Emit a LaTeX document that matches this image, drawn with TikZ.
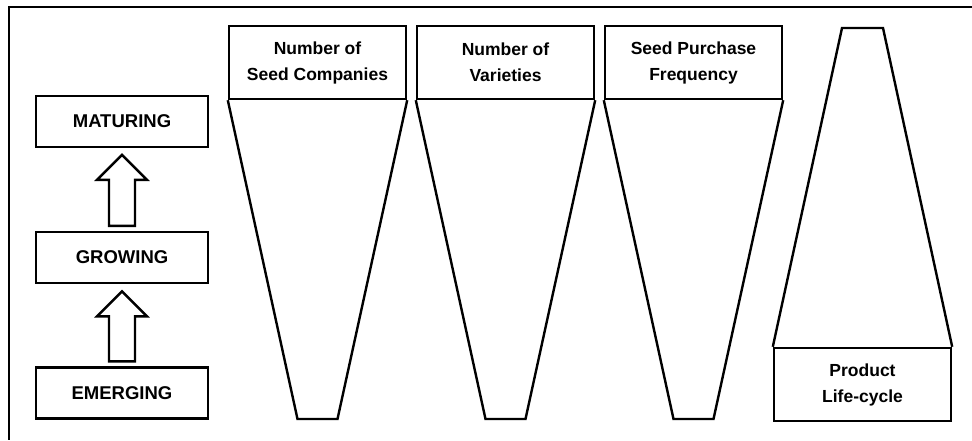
\documentclass[tikz,border=0pt]{standalone}
\usepackage{fontspec}
\setmainfont{Liberation Sans}
\usetikzlibrary{calc,positioning}

\tikzset{
  stagebox/.style={draw, line width=2.4pt, minimum width=172pt, minimum height=51pt,
    inner sep=0pt, font=\fontsize{18.5}{26}\selectfont\bfseries},
  headbox/.style={draw, line width=2.4pt, minimum width=177pt, minimum height=73pt,
    inner sep=0pt, align=center, font=\fontsize{17.5}{26}\selectfont\bfseries},
  funnelline/.style={line width=2.4pt, line join=miter},
  blockline/.style={line width=2.4pt, line join=miter},
  frameline/.style={line width=1.5pt},
}

% hollow upward arrow from box #1 to box #2
\newcommand{\blockup}[2]{%
  \coordinate (#1-tip) at ($(#2.south)+(0,7)$);
  \draw[blockline] ($(#1.north)+(-13,-5)$) -- ($(#1-tip)+(-13,25)$)
    -- ($(#1-tip)+(-25,25)$) -- (#1-tip) -- ($(#1-tip)+(25,25)$)
    -- ($(#1-tip)+(13,25)$) -- ($(#1.north)+(13,-5)$) -- cycle;
}

\begin{document}
\begin{tikzpicture}[x=1pt,y=-1pt]
    \useasboundingbox (0,0) rectangle (972,440);
    \draw [frameline] (972,7) -- (9,7) -- (9,440);

    % stages
    \node [stagebox] (emerging) at (122,393) {EMERGING};
    \node [stagebox, above=82pt of emerging] (growing) {GROWING};
    \node [stagebox, above=83pt of growing] (maturing) {MATURING};
    \blockup{emerging}{growing}
    \blockup{growing}{maturing}

    % funnels
    \foreach \cx/\name/\txt in {317.5/companies/{Number of\\Seed Companies},
                               505.5/varieties/{Number of\\Varieties},
                               693.5/purchase/{Seed Purchase\\Frequency}} {
        \node [headbox] (\name) at (\cx,62.5) {\txt};
        \coordinate (\name-bl) at (\cx-20,419);
        \coordinate (\name-br) at (\cx+20,419);
        \draw [funnelline] (\name.south west) -- (\name-bl) -- (\name-br) -- (\name.south east);
    }

    % life-cycle
    \node [headbox] (lifecycle) at (862.5,384.5) {Product\\Life-cycle};
    \coordinate (lifecycle-tl) at (842,28);
    \coordinate (lifecycle-tr) at (883,28);
    \draw [funnelline] (lifecycle.north west) -- (lifecycle-tl) -- (lifecycle-tr) -- (lifecycle.north east);
\end{tikzpicture}
\end{document}
